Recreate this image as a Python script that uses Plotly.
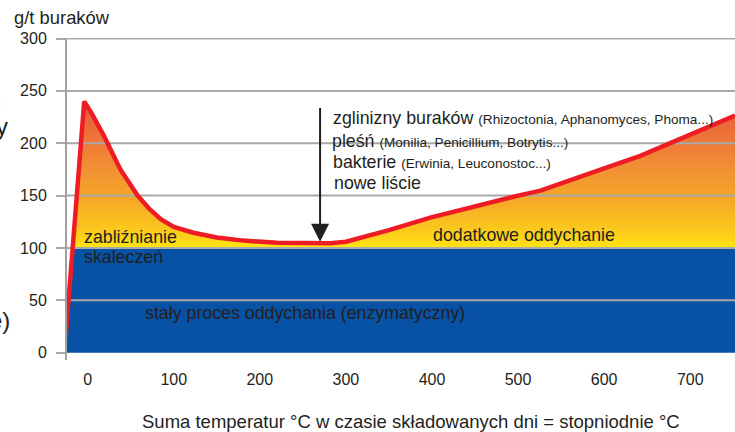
import numpy as np
import plotly.graph_objects as go

# --- data ---
curve_x = [-27, -4, 5, 19, 38, 58, 72, 85, 100, 123, 150, 181, 220, 250, 282, 300, 320, 350, 398, 450, 500, 526, 560, 600, 642, 677, 700, 752]
curve_y = [0, 240, 228, 207, 175, 150, 137, 127.5, 120, 114.5, 110, 107, 105, 104.5, 104.5, 106, 110, 117, 129, 140, 150, 154.7, 164, 176, 188, 200, 208, 226.5]
base_level = 100
y_ticks = [0, 50, 100, 150, 200, 250, 300]
x_ticks = [0, 100, 200, 300, 400, 500, 600, 700]
x_range = [-24, 752]
y_range = [-7, 300.5]

FONT = "Liberation Sans, Arial, Helvetica, sans-serif"
TXT = "#231F20"

cx = np.array(curve_x, float)
cy = np.array(curve_y, float)
# insert crossing with the base level on the rising edge
i = np.argmax(cy >= base_level)
xc = cx[i - 1] + (base_level - cy[i - 1]) * (cx[i] - cx[i - 1]) / (cy[i] - cy[i - 1])
bx = np.insert(cx, i, xc)
by = np.insert(cy, i, base_level)
blue_y = np.minimum(by, base_level)
top_y = np.maximum(by, base_level)

fig = go.Figure()
# constant respiration (blue)
fig.add_trace(go.Scatter(x=bx, y=blue_y, fill="tozeroy", mode="lines",
                         line=dict(width=0, color="#0752A4"), fillcolor="#0752A4",
                         hoverinfo="skip", showlegend=False))
# baseline for gradient region
fig.add_trace(go.Scatter(x=bx, y=np.full_like(bx, base_level), mode="lines",
                         line=dict(width=0), hoverinfo="skip", showlegend=False))
fig.add_trace(go.Scatter(x=bx, y=top_y, mode="lines", fill="tonexty",
                         line=dict(width=0),
                         fillgradient=dict(type="vertical", start=base_level, stop=240,
                                           colorscale=[[0, "#FFE512"], [0.08, "#FCD01A"],
                                                       [0.3, "#F6AC27"], [0.5, "#F29532"],
                                                       [0.75, "#EE7538"], [1, "#E8553B"]]),
                         hoverinfo="skip", showlegend=False))
# grid lines (drawn above fills)
gx, gy = [], []
for t in y_ticks[1:]:
    gx += [x_range[0], x_range[1], None]
    gy += [t, t, None]
fig.add_trace(go.Scatter(x=gx, y=gy, mode="lines", line=dict(color="#A9A9A9", width=2),
                         hoverinfo="skip", showlegend=False))
# red curve
fig.add_trace(go.Scatter(x=cx, y=cy, mode="lines", line=dict(color="#EE1C25", width=4.5),
                         hoverinfo="skip", showlegend=False))

ann = []
def A(text, x, y, size, xanchor="left", xref="x", yref="y", **kw):
    ann.append(dict(text=text, x=x, y=y, xref=xref, yref=yref, xanchor=xanchor,
                    yanchor="middle", showarrow=False,
                    font=dict(family=FONT, size=size, color=TXT), **kw))

IN = 17.8
A("zabliźnianie", -6, 110.7, IN)
A("skaleczeń", -6, 91.5, IN)
A("dodatkowe oddychanie", 399, 112, IN)
A("stały proces oddychania (enzymatyczny)", 64, 38, IN)
sm = "<span style='font-size:13.6px'>"
A("zglinizny buraków " + sm + "(Rhizoctonia, Aphanomyces, Phoma...)</span>", 283, 224.5, IN)
A("pleśń " + sm + "(Monilia, Penicillium, Botrytis...)</span>", 282, 202.5, IN)
A("bakterie " + sm + "(Erwinia, Leuconostoc...)</span>", 283, 182, IN)
A("nowe liście", 284, 162, IN)
# axis titles (paper coordinates, outside the plot area)
A("g/t buraków", -0.0823, 1.065, 18.4, xref="paper", yref="paper")
A("Suma temperatur °C w czasie składowanych dni = stopniodnie °C", 0.5155, -0.1925, 18.5,
  xanchor="center", xref="paper", yref="paper")
# cut-off fragments at left edge
A(",", -0.0943, 0.817, 24, xanchor="right", xref="paper", yref="paper")
A("y", -0.0853, 0.7267, 24, xanchor="right", xref="paper", yref="paper")
A("e)", -0.0823, 0.1242, 24, xanchor="right", xref="paper", yref="paper")

# arrow
ann.append(dict(x=270, y=106, ax=270, ay=235, xref="x", yref="y", axref="x", ayref="y",
                text="", showarrow=True, arrowhead=2, arrowsize=1.8, arrowwidth=2,
                arrowcolor=TXT))

fig.update_layout(
    width=735, height=432,
    margin=dict(l=67, r=0, t=38, b=72, autoexpand=False),
    plot_bgcolor="white", paper_bgcolor="white",
    annotations=ann,
    xaxis=dict(range=x_range, tickvals=x_ticks, ticktext=[str(v) for v in x_ticks],
               showgrid=False, zeroline=False, showline=False, ticks="",
               ticklabelstandoff=8, automargin=False,
               tickfont=dict(family=FONT, size=16, color=TXT)),
    yaxis=dict(range=y_range, tickvals=y_ticks, ticktext=[str(v) for v in y_ticks],
               showgrid=False, zeroline=False, showline=True, linecolor="#A0A0A0", linewidth=2,
               ticks="outside", ticklen=9, tickcolor="#A9A9A9", tickwidth=2,
               ticklabelstandoff=6, automargin=False,
               tickfont=dict(family=FONT, size=16, color=TXT)),
)
fig.write_html("out.html", config={"displayModeBar": False},
               post_script="document.body.style.margin='0';document.body.style.overflow='hidden';")
